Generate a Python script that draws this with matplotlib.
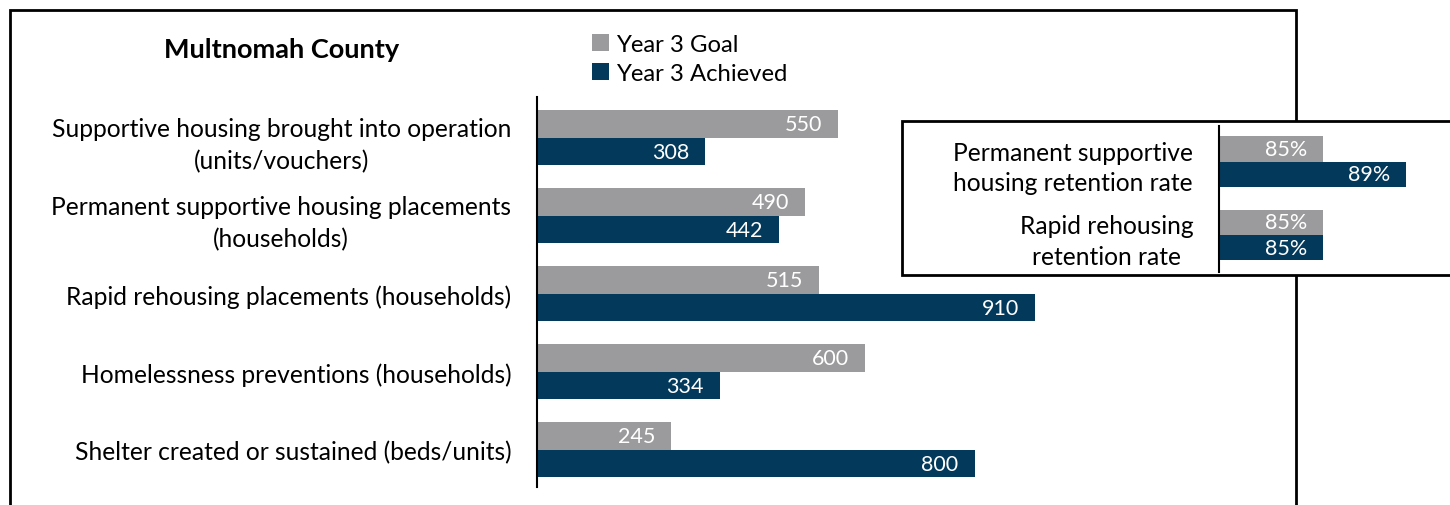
import matplotlib
matplotlib.use("Agg")
import matplotlib.pyplot as plt
from matplotlib.patches import Rectangle

plt.rcParams['font.family'] = ['Lato', 'DejaVu Sans']

title = "Multnomah County"
series_names = ["Year 3 Goal", "Year 3 Achieved"]
categories = [
    "Supportive housing brought into operation\n(units/vouchers)",
    "Permanent supportive housing placements\n(households)",
    "Rapid rehousing placements (households)",
    "Homelessness preventions (households)",
    "Shelter created or sustained (beds/units)",
]
goal = [550, 490, 515, 600, 245]
achieved = [308, 442, 910, 334, 800]

rate_categories = [
    "Permanent supportive\nhousing retention rate",
    "Rapid rehousing\nretention rate",
]
rate_goal = [85, 85]
rate_achieved = [89, 85]

GRAY = "#9B9B9D"
NAVY = "#033A5C"

W, H = 1450, 506
fig = plt.figure(figsize=(W / 100, H / 100), dpi=100)

def fx(px):
    return px / W

def fy(py):
    return 1 - py / H

# outer frame
fig.patches.append(Rectangle((fx(10), fy(560)), fx(1296) - fx(10), fy(11) - fy(560),
                             transform=fig.transFigure, fill=False, edgecolor="black",
                             linewidth=2, zorder=0))

# main axes
ax = fig.add_axes([fx(537), fy(488), fx(547), (488 - 98) / H])
ax.set_xlim(0, 1000)
ax.set_ylim(4.477, -0.523)
bh = 0.353
ys = list(range(len(categories)))
b1 = ax.barh([y - bh / 2 for y in ys], goal, height=bh, color=GRAY, label=series_names[0])
b2 = ax.barh([y + bh / 2 for y in ys], achieved, height=bh, color=NAVY, label=series_names[1])
for bars, vals in ((b1, goal), (b2, achieved)):
    for rect, v in zip(bars, vals):
        ax.annotate(f"{v}", xy=(v, rect.get_y() + rect.get_height() / 2),
                    xytext=(-16, 0), textcoords="offset pixels",
                    ha="right", va="center", color="white", fontsize=15.5)
ax.set_yticks(ys)
ax.set_yticklabels(categories, fontsize=17.7, multialignment="center", linespacing=1.5)
ax.tick_params(axis="y", length=0, pad=18.5)
ax.set_xticks([])
for s in ("top", "right", "bottom"):
    ax.spines[s].set_visible(False)
ax.spines["left"].set_linewidth(1.5)

# title
fig.text(fx(282), fy(50), title, ha="center", va="center", fontsize=19.5, fontweight="bold")

# legend
fig.legend(handles=[b1, b2], labels=series_names, loc="upper left",
           bbox_to_anchor=(fx(592), fy(35)), frameon=False, fontsize=17.2,
           handlelength=0.7, handleheight=0.7, handletextpad=0.3,
           labelspacing=0.32, borderpad=0, borderaxespad=0)

# inset box
fig.patches.append(Rectangle((fx(902), fy(276)), fx(1470) - fx(902), fy(122) - fy(276),
                             transform=fig.transFigure, facecolor="white", edgecolor="black",
                             linewidth=2, zorder=1))

ax2 = fig.add_axes([fx(1219), fy(272.7), fx(208), (272.7 - 127.3) / H])
ax2.set_zorder(5)
ax2.patch.set_alpha(0)
ax2.set_xlim(80, 90)
ax2.set_ylim(1.5, -0.483)
rh = 0.345
rys = list(range(len(rate_categories)))
r1 = ax2.barh([y - rh / 2 for y in rys], rate_goal, height=rh, color=GRAY)
r2 = ax2.barh([y + rh / 2 for y in rys], rate_achieved, height=rh, color=NAVY)
for bars, vals in ((r1, rate_goal), (r2, rate_achieved)):
    for rect, v in zip(bars, vals):
        ax2.annotate(f"{v}%", xy=(v, rect.get_y() + rect.get_height() / 2),
                     xytext=(-16, 0), textcoords="offset pixels",
                     ha="right", va="center", color="white", fontsize=15.5)
ax2.set_yticks(rys)
ax2.set_yticklabels(rate_categories, fontsize=17.7, multialignment="center", linespacing=1.4)
ax2.tick_params(axis="y", length=0, pad=18.5)
ax2.set_xticks([])
for s in ("top", "right", "bottom"):
    ax2.spines[s].set_visible(False)
ax2.spines["left"].set_linewidth(1.5)

fig.savefig("out.png", dpi=100)
